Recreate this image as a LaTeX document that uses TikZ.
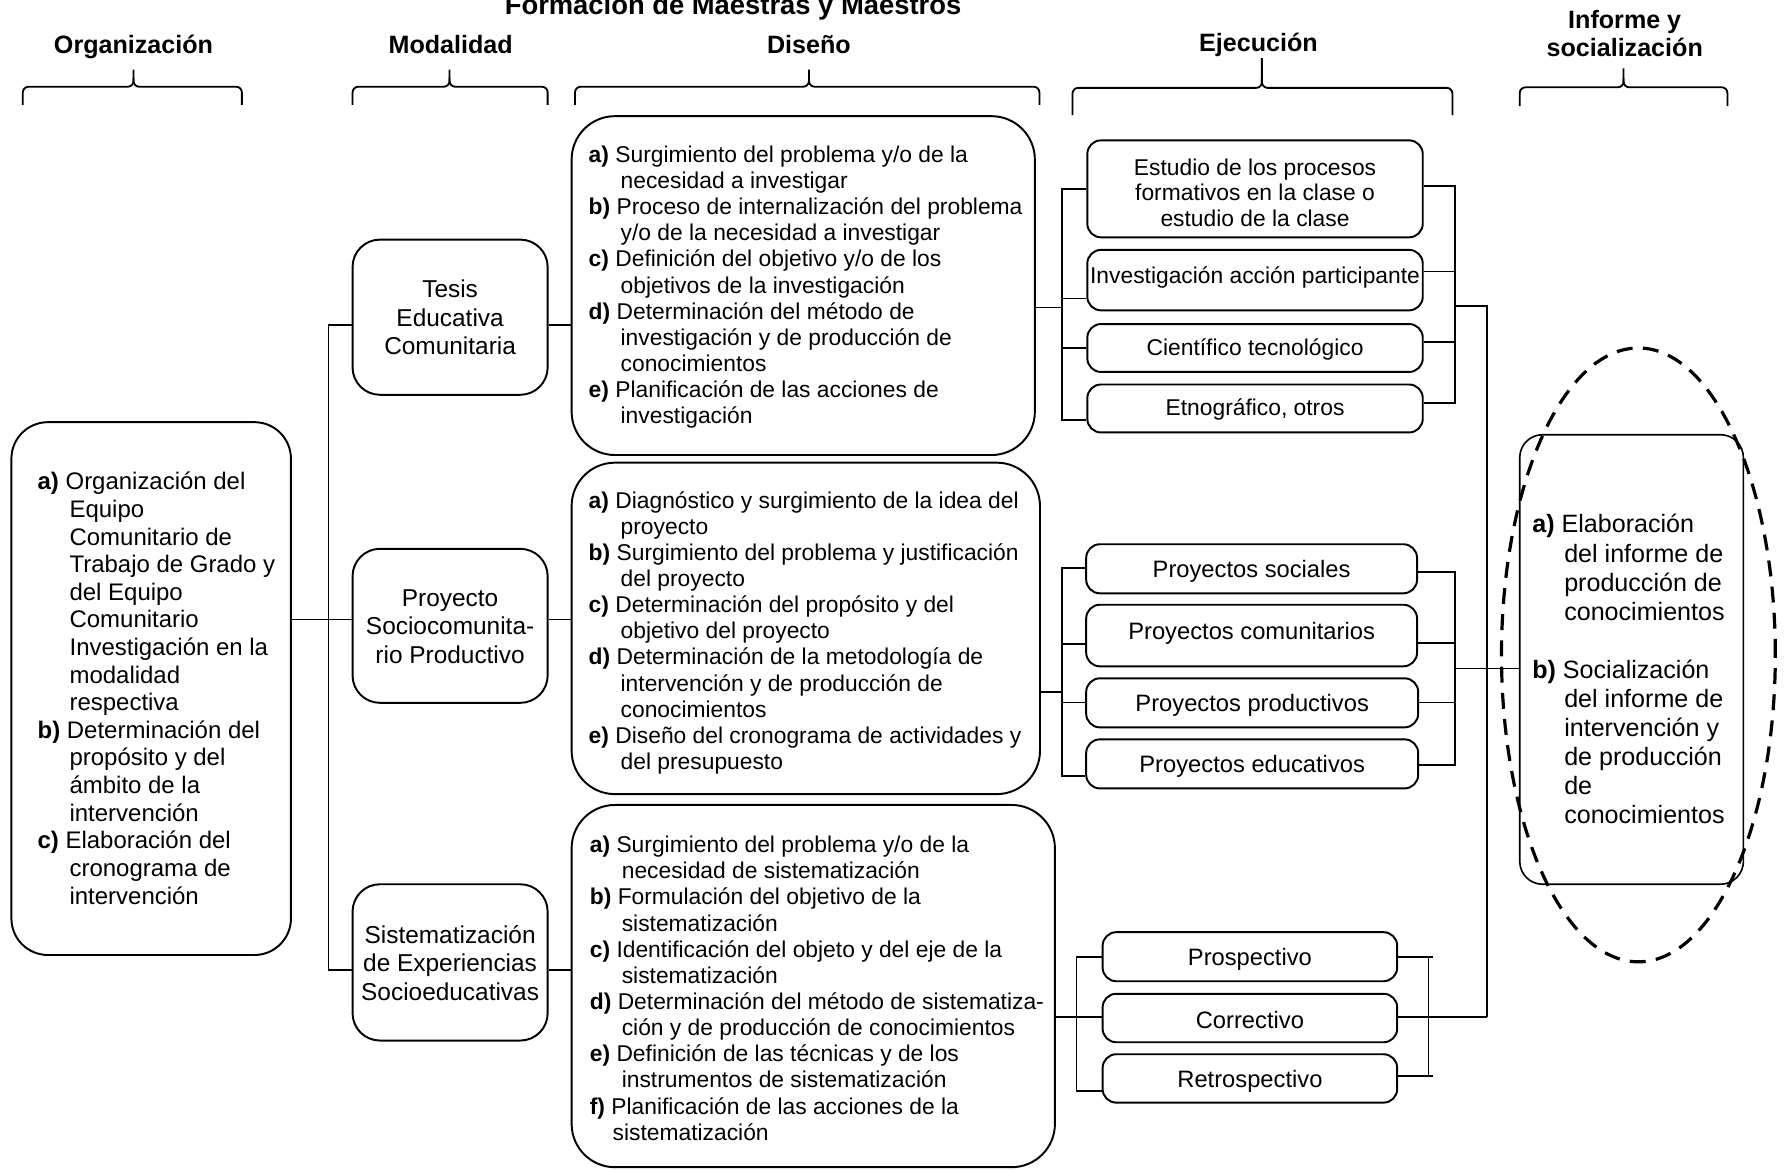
\documentclass[tikz,border=0pt]{standalone}
\usepackage{fontspec}
\setmainfont{Liberation Sans}
% left-aligned list block of fixed width (long lines may overhang)
\newcommand\itemtab[2]{\makebox[#1][l]{\begin{tabular}{@{}l@{}}#2\end{tabular}}}
\newcommand\ctab[1]{\begin{tabular}{@{}c@{}}#1\end{tabular}}
\newcommand\ind{\hspace*{14pt}}
\newcommand\lbl[1]{\textbf{#1)}}
\newcommand\vshift[2]{\raisebox{#1}[\height][\depth]{#2}}
% curly top brace: x1, x2, xmid, yline, yend, ytip
\newcommand\topbrace[6]{%
  \draw[brc] (#1,#5) -- (#1,#4) -- (#3,#4) -- (#3,#6);
  \draw[brc] (#2,#5) -- (#2,#4) -- (#3,#4) -- (#3,#4-8);}
\begin{document}
\begin{tikzpicture}[x=0.5pt,y=-0.5pt,
  box/.style={draw, line width=0.85pt, inner sep=0pt, rounded corners=#1},
  box/.default=6pt,
  conn/.style={line width=0.75pt},
  brc/.style={line width=0.8pt, rounded corners=2.5pt},
  hdr/.style={font=\fontsize{11}{12.5}\selectfont\bfseries, align=center, anchor=base, inner sep=0pt},
  dfont/.style={font=\fontsize{10}{11.45}\selectfont},
  efont/.style={font=\fontsize{10}{11.25}\selectfont},
  pfont/.style={font=\fontsize{10.4}{12}\selectfont},
  mfont/.style={font=\fontsize{10.7}{12.5}\selectfont},
]
\path[use as bounding box, clip] (0,0) rectangle (1568,1025);
\fill[white] (0,0) rectangle (1568,1025);

% ---- title and column headings
\node[font=\fontsize{12}{14}\selectfont\bfseries, anchor=base, inner sep=0pt] (title) at (642.5,13) {Formación de Maestras y Maestros};
\node[hdr] (hOrg) at (117,46.5) {Organización};
\node[hdr] (hMod) at (395,46.5) {Modalidad};
\node[hdr] (hDis) at (709,46.5) {Diseño};
\node[hdr] (hEje) at (1103,45) {Ejecución};
\node[hdr] (hInf) at (1424,49.7) {Informe y\\socialización};

\topbrace{20}{212}{117}{76}{92}{61}
\topbrace{309}{480}{394}{76}{92}{61}
\topbrace{504}{911}{709}{76}{92}{61}
\topbrace{940}{1273}{1106}{77}{101}{51}
\topbrace{1332}{1514}{1423}{76.5}{93}{60}

% ---- Organización
\node[box=16pt, minimum width=122.5pt, minimum height=233.5pt, inner xsep=11.5pt,
      font=\fontsize{10.5}{12.1}\selectfont] (org) at (132.5,603.5) {\vshift{-1.25pt}{\itemtab{99.5pt}{%
\lbl{a} Organización del\\
\ind Equipo\\
\ind Comunitario de\\
\ind Trabajo de Grado y\\
\ind del Equipo\\
\ind Comunitario\\
\ind Investigación en la\\
\ind modalidad\\
\ind respectiva\\
\lbl{b} Determinación del\\
\ind propósito y del\\
\ind ámbito de la\\
\ind intervención\\
\lbl{c} Elaboración del\\
\ind cronograma de\\
\ind intervención}}};

% ---- Modalidad
\node[box=12pt, mfont, minimum width=85.5pt, minimum height=68pt] (tesis) at (394.5,278) {\vshift{-1.5pt}{\ctab{Tesis\\Educativa\\Comunitaria}}};
\node[box=12pt, mfont, minimum width=85.5pt, minimum height=67.5pt] (proy) at (394.5,548.5) {\vshift{-1.5pt}{\ctab{Proyecto\\Sociocomunita-\\rio Productivo}}};
\node[box=12pt, mfont, minimum width=85.5pt, minimum height=68.5pt] (sist) at (394.5,843.5) {\vshift{-1.5pt}{\ctab{Sistematización\\de Experiencias\\Socioeducativas}}};

% ---- Diseño
\node[box=19pt, dfont, minimum width=203pt, minimum height=148.5pt, inner xsep=7.5pt] (d1) at (704,250.3) {\vshift{-1pt}{\itemtab{188pt}{%
\lbl{a} Surgimiento del problema y/o de la\\
\ind necesidad a investigar\\
\lbl{b} Proceso de internalización del problema\\
\ind y/o de la necesidad a investigar\\
\lbl{c} Definición del objetivo y/o de los\\
\ind objetivos de la investigación\\
\lbl{d} Determinación del método de\\
\ind investigación y de producción de\\
\ind conocimientos\\
\lbl{e} Planificación de las acciones de\\
\ind investigación}}};

\node[box=19pt, dfont, minimum width=205.25pt, minimum height=145.25pt, inner xsep=7.5pt] (d2) at (706.25,550.75) {\vshift{-2.25pt}{\itemtab{190.25pt}{%
\lbl{a} Diagnóstico y surgimiento de la idea del\\
\ind proyecto\\
\lbl{b} Surgimiento del problema y justificación\\
\ind del proyecto\\
\lbl{c} Determinación del propósito y del\\
\ind objetivo del proyecto\\
\lbl{d} Determinación de la metodología de\\
\ind intervención y de producción de\\
\ind conocimientos\\
\lbl{e} Diseño del cronograma de actividades y\\
\ind del presupuesto}}};

\node[box=19pt, dfont, minimum width=211.8pt, minimum height=158.75pt, inner xsep=8pt] (d3) at (712.8,864.25) {\vshift{-2.25pt}{\itemtab{195.8pt}{%
\lbl{a} Surgimiento del problema y/o de la\\
\ind necesidad de sistematización\\
\lbl{b} Formulación del objetivo de la\\
\ind sistematización\\
\lbl{c} Identificación del objeto y del eje de la\\
\ind sistematización\\
\lbl{d} Determinación del método de sistematiza-\\
\ind ción y de producción de conocimientos\\
\lbl{e} Definición de las técnicas y de los\\
\ind instrumentos de sistematización\\
\lbl{f} Planificación de las acciones de la\\
\hspace*{10pt}sistematización}}};

% ---- Ejecución: tesis
\node[box, efont, minimum width=147pt, minimum height=42.5pt] (e1) at (1100,165.5) {\vshift{-3pt}{\ctab{Estudio de los procesos\\formativos en la clase o\\estudio de la clase}}};
\node[box, efont, minimum width=147pt, minimum height=26.5pt] (e2) at (1100,245.5) {\vshift{1.25pt}{Investigación acción participante}};
\node[box, efont, minimum width=147pt, minimum height=21pt] (e3) at (1100,305) {\vshift{-0.5pt}{Científico tecnológico}};
\node[box, efont, minimum width=147pt, minimum height=21pt] (e4) at (1100,358) {\vshift{-0.5pt}{Etnográfico, otros}};

% ---- Ejecución: proyectos
\node[box, pfont, minimum width=145pt, minimum height=21.5pt] (p1) at (1097,498.5) {\vshift{-1pt}{Proyectos sociales}};
\node[box, pfont, minimum width=145pt, minimum height=27pt] (p2) at (1097,557) {\vshift{1pt}{Proyectos comunitarios}};
\node[box, pfont, minimum width=145.5pt, minimum height=21.5pt] (p3) at (1097.5,616) {\vshift{-1pt}{Proyectos productivos}};
\node[box, pfont, minimum width=145.5pt, minimum height=21.5pt] (p4) at (1097.5,669.5) {\vshift{-1pt}{Proyectos educativos}};

% ---- Ejecución: sistematización
\node[box, pfont, minimum width=129.1pt, minimum height=21.5pt] (s1) at (1095.5,838.5) {\vshift{-1pt}{Prospectivo}};
\node[box, pfont, minimum width=129.1pt, minimum height=21.25pt] (s2) at (1095.5,892.25) {\vshift{-0.75pt}{Correctivo}};
\node[box, pfont, minimum width=129.1pt, minimum height=21.2pt] (s3) at (1095.5,945.2) {\vshift{-1.25pt}{Retrospectivo}};

% ---- Informe y socialización
\node[box=10pt, line width=0.7pt, minimum width=98pt, minimum height=197pt, inner xsep=5.5pt,
      font=\fontsize{11}{12.75}\selectfont] (inf) at (1430,578) {\vshift{-5.75pt}{\itemtab{87pt}{%
\lbl{a} Elaboración\\
\ind del informe de\\
\ind producción de\\
\ind conocimientos\\
\\
\lbl{b} Socialización\\
\ind del informe de\\
\ind intervención y\\
\ind de producción\\
\ind de\\
\ind conocimientos}}};
\draw[line width=1.4pt, dash pattern=on 7pt off 4.5pt] (1436,574) ellipse [x radius=60pt, y radius=134.5pt];

% ---- Organización -> Modalidad -> Diseño
\coordinate (spT) at (288,285);
\coordinate (spB) at (288,850);
\draw[conn] (tesis.west |- spT) -- (spT) -- (spB) -- (sist.west |- spB);
\draw[conn] (org.east |- 0,543) -- (proy.west |- 0,543);
\draw[conn] (tesis.east |- 0,285) -- (d1.west |- 0,285);
\draw[conn] (proy.east |- 0,543) -- (d2.west |- 0,543);
\draw[conn] (sist.east |- 0,850) -- (d3.west |- 0,850);

% ---- Diseño -> Ejecución (tesis)
\draw[conn] (d1.east |- 0,269.4) -- (931,269.4);
\draw[conn] (e1.west |- 0,165.6) -- (931,165.6) -- (931,368) -- (e4.west |- 0,368);
\draw[conn] (e2.west |- 0,261.5) -- (931,261.5);
\draw[conn] (e3.west |- 0,304.7) -- (931,304.7);
\draw[conn] (e1.east |- 0,163) -- (1275,163) -- (1275,353) -- (e4.east |- 0,353);
\draw[conn] (e2.east |- 0,238) -- (1275,238);
\draw[conn] (e3.east |- 0,300) -- (1275,300);
\draw[conn] (1275,268) -- (1303,268) -- (1303,891.6);

% ---- Diseño -> Ejecución (proyectos)
\draw[conn] (d2.east |- 0,606.8) -- (931,606.8);
\draw[conn] (p1.west |- 0,498) -- (931,498) -- (931,680) -- (p4.west |- 0,680);
\draw[conn] (p2.west |- 0,564.4) -- (931,564.4);
\draw[conn] (p3.west |- 0,615.8) -- (931,615.8);
\draw[conn] (p1.east |- 0,501.6) -- (1275,501.6) -- (1275,670.5) -- (p4.east |- 0,670.5);
\draw[conn] (p2.east |- 0,563.8) -- (1275,563.8);
\draw[conn] (p3.east |- 0,615.8) -- (1275,615.8);
\draw[conn] (1275,586) -- (inf.west |- 0,586);

% ---- Diseño -> Ejecución (sistematización)
\draw[conn] (d3.east |- 0,891.6) -- (s2.west |- 0,891.6);
\draw[conn] (s1.west |- 0,838.5) -- (943.6,838.5) -- (943.6,956.2) -- (s3.west |- 0,956.2);
\draw[conn] (s1.east |- 0,838.5) -- (1256,838.5);
\draw[conn] (s3.east |- 0,943) -- (1256,943);
\draw[conn] (1252,838.5) -- (1252,943);
\draw[conn] (s2.east |- 0,891.6) -- (1303,891.6);
\end{tikzpicture}
\end{document}
